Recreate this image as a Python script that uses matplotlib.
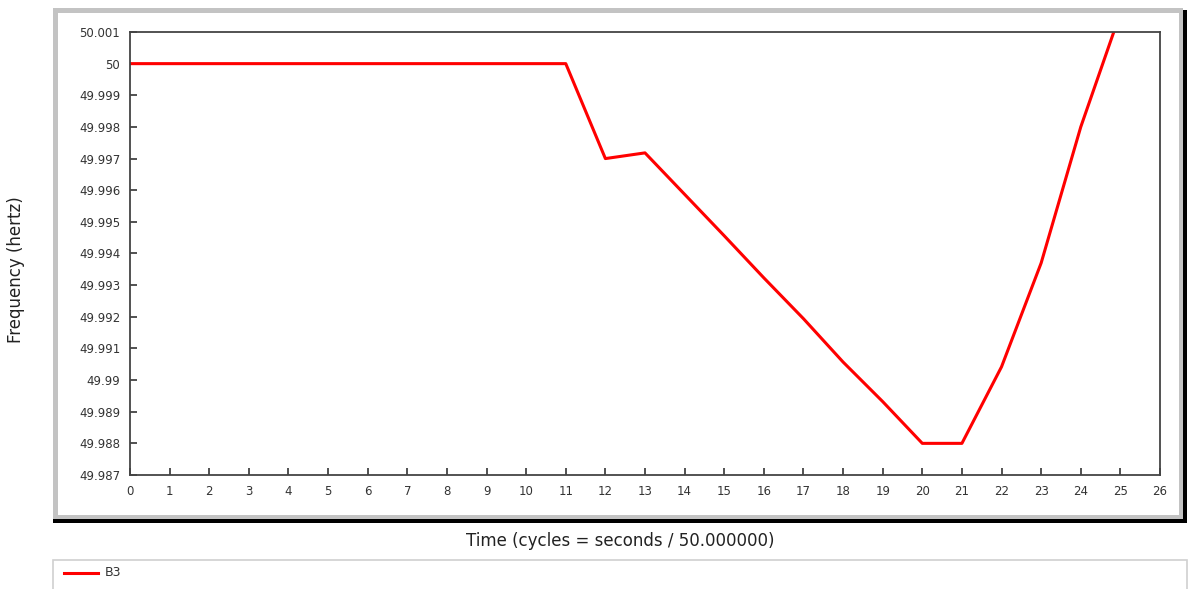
import numpy as np
import matplotlib.pyplot as plt
from matplotlib.patches import Rectangle

# data
time = [0, 1, 2, 3, 4, 5, 6, 7, 8, 9, 10, 11, 12, 13, 14, 15, 16, 17, 18, 19, 20, 21, 22, 23, 24, 25]
freq = [50.0, 50.0, 50.0, 50.0, 50.0, 50.0, 50.0, 50.0, 50.0, 50.0, 50.0, 50.0,
        49.997, 49.99718, 49.99587, 49.99456, 49.99323, 49.99194, 49.99057, 49.98932,
        49.988, 49.988, 49.99042, 49.9937, 49.998, 50.0016]
xticks = list(range(0, 27))
yticks = [49.987, 49.988, 49.989, 49.99, 49.991, 49.992, 49.993, 49.994,
          49.995, 49.996, 49.997, 49.998, 49.999, 50.0, 50.001]

W, H = 1188, 589
fig = plt.figure(figsize=(W/100, H/100), dpi=100)

def box(x0, y0, x1, y1, **kw):
    # pixel box (top-left origin) -> figure rectangle
    r = Rectangle((x0/W, 1-y1/H), (x1-x0)/W, (y1-y0)/H, transform=fig.transFigure,
                  zorder=-10, **kw)
    fig.patches.append(r)

# frame with shadow
box(53, 10, 1187, 523, facecolor='black', edgecolor='none')
box(53, 8, 1183, 519, facecolor='#c3c3c3', edgecolor='none')
box(58, 13, 1179, 515, facecolor='white', edgecolor='none')
# legend box
box(53, 560, 1187, 600, facecolor='white', edgecolor='#d0d0d0', linewidth=1.2)

ax = fig.add_axes([130/W, 1-475/H, 1030/W, 443/H])
ax.set_zorder(5)
ax.plot(time, freq, color='#ff0000', linewidth=2.2, clip_on=True)
ax.set_xlim(0, 26)
ax.set_ylim(49.987, 50.001)
ax.set_xticks(xticks)
ax.set_xticklabels([str(t) for t in xticks])
ax.set_yticks(yticks)
ax.set_yticklabels(['%g' % round(v, 3) for v in yticks])
ax.tick_params(direction='in', length=5, width=1.2, color='#333333',
               labelsize=8.5, labelcolor='#333333', pad=7)
for s in ax.spines.values():
    s.set_color('#444444')
    s.set_linewidth(1.3)

fig.text(620/W, 1-541/H, 'Time (cycles = seconds / 50.000000)', ha='center', va='center',
         fontsize=12, color='#222222')
fig.text(16/W, 1-270/H, 'Frequency (hertz)', ha='center', va='center', rotation=90,
         fontsize=12, color='#222222')

# legend entry
fig.lines.append(plt.Line2D([64/W, 98/W], [1-573/H, 1-573/H], transform=fig.transFigure,
                            color='#ff0000', linewidth=2.2))
fig.text(105/W, 1-573/H, 'B3', ha='left', va='center', fontsize=9, color='#333333')

fig.savefig('out.png', dpi=100)
